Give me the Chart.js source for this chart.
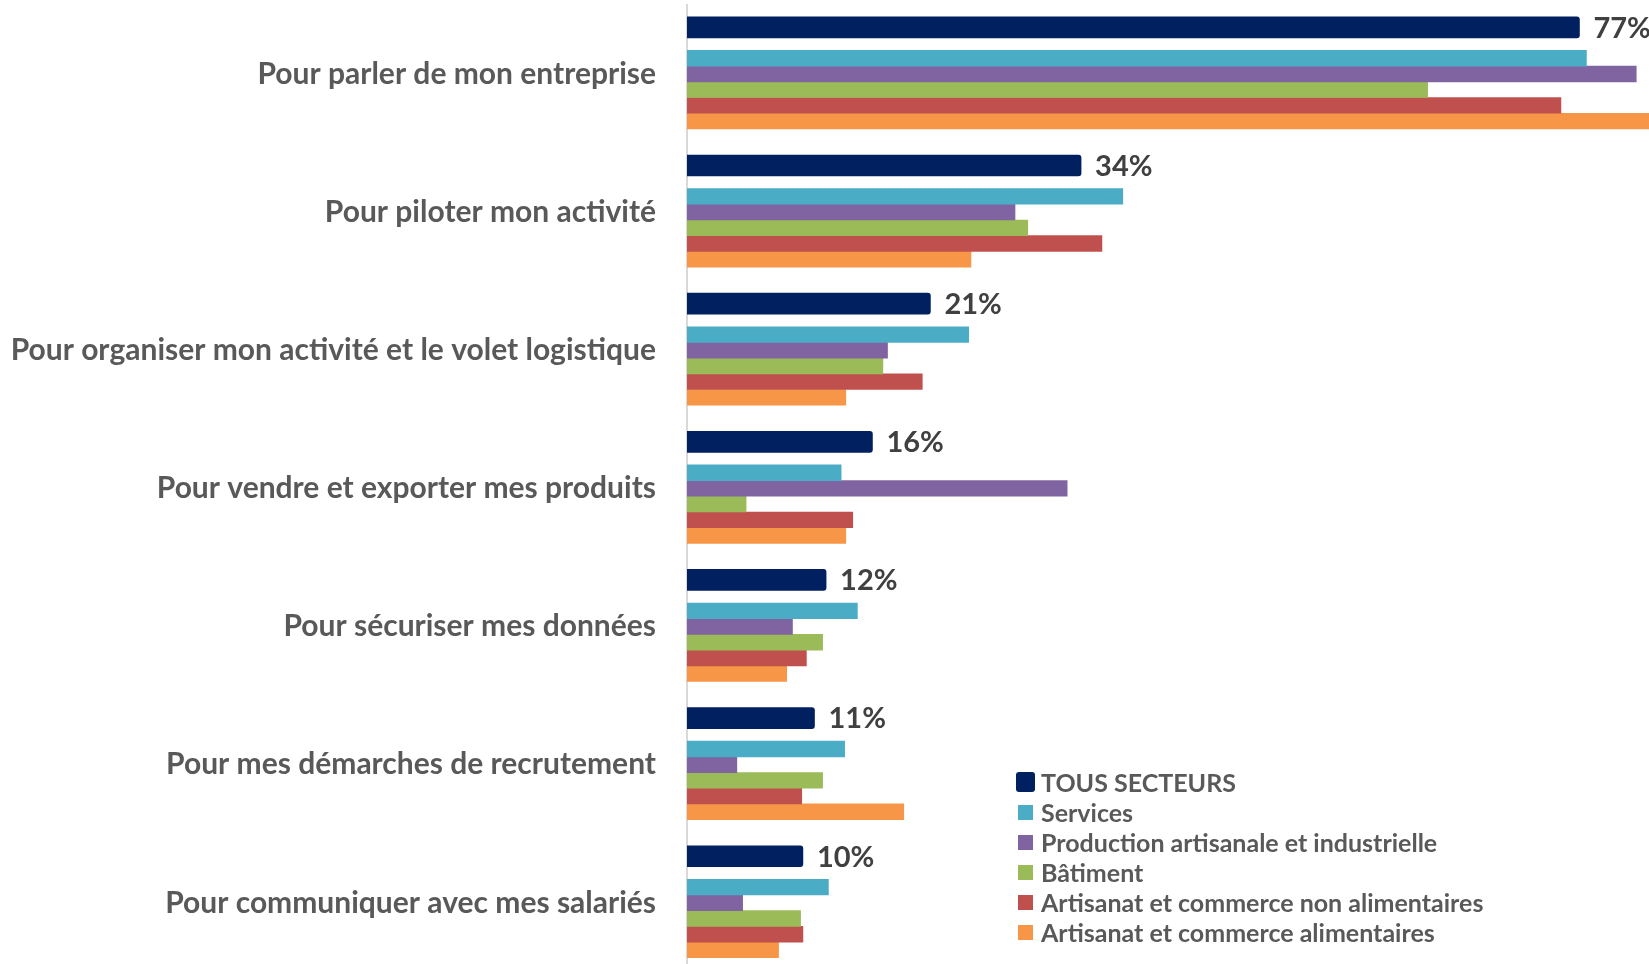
<!DOCTYPE html>
<html lang="fr">
<head>
<meta charset="utf-8">
<title>Usages du numérique par secteur</title>
<script src="https://cdn.jsdelivr.net/npm/chart.js@4.4.1/dist/chart.umd.min.js"></script>
<style>
  html, body { margin: 0; padding: 0; background: #fff; overflow: hidden; }
  #wrap { position: relative; width: 1649px; height: 972px; }
  #legend {
    position: absolute; left: 1018px; top: 767px;
    font-family: Lato, "Open Sans", sans-serif; font-weight: bold; font-size: 25px; color: #595959;
  }
  #legend .row { height: 30px; display: flex; align-items: center; }
  #legend .box { display: inline-block; width: 15px; height: 15px; margin-right: 8px; }
  #legend .box.big { width: 19px; height: 20px; border-radius: 3px; margin-left: -2px; margin-right: 6px; }
</style>
</head>
<body>
<div id="wrap">
  <canvas id="chart"></canvas>
  <div id="legend"></div>
</div>
<script>
// categories (top to bottom)
const categories = [
  "Pour parler de mon entreprise",
  "Pour piloter mon activité",
  "Pour organiser mon activité et le volet logistique",
  "Pour vendre et exporter mes produits",
  "Pour sécuriser mes données",
  "Pour mes démarches de recrutement",
  "Pour communiquer avec mes salariés"
];

// series values, in %
const tousSecteurs = [77, 34, 21, 16, 12, 11, 10];
const services = [77.6, 37.6, 24.3, 13.3, 14.7, 13.6, 12.2];
const production = [81.9, 28.3, 17.3, 32.8, 9.1, 4.3, 4.8];
const batiment = [63.9, 29.4, 16.9, 5.1, 11.7, 11.7, 9.8];
const nonAlimentaire = [75.4, 35.8, 20.3, 14.3, 10.3, 9.9, 10.0];
const alimentaire = [84, 24.5, 13.7, 13.7, 8.6, 18.7, 7.9];

const seriesNames = [
  "TOUS SECTEURS",
  "Services",
  "Production artisanale et industrielle",
  "Bâtiment",
  "Artisanat et commerce non alimentaires",
  "Artisanat et commerce alimentaires"
];
const colors = ["#002060", "#4BACC6", "#8064A2", "#9BBB59", "#C0504D", "#F79646"];

const xMax = 83;

// where the bars sit inside a category band (fraction of the band, from its centre):
// the "tous secteurs" bar on top, then a gap, then the block of sector bars
const TOUS_SHIFT = -0.338;
const SECTOR_SHIFT = 0.113;

const labelFont = { family: "Lato", weight: "bold", size: 30 };

// vertical offset of each dataset, worked out from the scale before drawing
const offsets = {};

const placeBars = {
  id: "placeBars",
  beforeDatasetsDraw(chart) {
    const y = chart.scales.y;
    const p0 = y.getPixelForValue(0);
    const band = y.getPixelForValue(1) - p0;
    offsets[0] = p0 + TOUS_SHIFT * band - chart.getDatasetMeta(0).data[0].y;
    const centers = [1, 2, 3, 4, 5].map(i => chart.getDatasetMeta(i).data[0].y);
    const mid = (Math.min(...centers) + Math.max(...centers)) / 2;
    const d = p0 + SECTOR_SHIFT * band - mid;
    for (let i = 1; i <= 5; i++) offsets[i] = d;
  },
  beforeDatasetDraw(chart, args) {
    chart.ctx.save();
    chart.ctx.translate(0, offsets[args.index] || 0);
  },
  afterDatasetDraw(chart) {
    chart.ctx.restore();
  }
};

// percentage labels next to the "tous secteurs" bars
const valueLabels = {
  id: "valueLabels",
  afterDatasetsDraw(chart) {
    const ctx = chart.ctx;
    const meta = chart.getDatasetMeta(0);
    ctx.save();
    ctx.font = "bold 29px Lato";
    ctx.fillStyle = "#404040";
    ctx.textBaseline = "middle";
    meta.data.forEach((bar, i) => {
      ctx.fillText(tousSecteurs[i] + "%", bar.x + 14, bar.y + offsets[0] + 1);
    });
    ctx.restore();
  }
};

const sectorSeries = [services, production, batiment, nonAlimentaire, alimentaire];

const datasets = [{
  label: seriesNames[0],
  data: tousSecteurs,
  backgroundColor: colors[0],
  barThickness: 21,
  borderRadius: 3,
  borderSkipped: "start"
}];
sectorSeries.forEach((values, i) => {
  datasets.push({
    label: seriesNames[i + 1],
    data: values,
    backgroundColor: colors[i + 1],
    barThickness: 15.7
  });
});

const chart = new Chart(document.getElementById("chart"), {
  type: "bar",
  data: { labels: categories, datasets: datasets },
  options: {
    indexAxis: "y",
    responsive: true,
    maintainAspectRatio: false,
    animation: false,
    layout: { padding: { top: 5, right: 0, bottom: 0, left: 0 } },
    plugins: {
      legend: { display: false },
      tooltip: { enabled: false }
    },
    scales: {
      x: { min: 0, max: xMax, display: false },
      y: {
        grid: { display: false, drawTicks: false },
        border: { display: true, color: "#d9d9d9", width: 2 },
        ticks: { font: labelFont, color: "#595959", padding: 31 },
        afterFit: (scale) => {
          scale.width = 687;
          scale.paddingTop = 0;
          scale.paddingBottom = 0;
        }
      }
    }
  },
  plugins: [placeBars, valueLabels]
});

// legend
const legend = document.getElementById("legend");
seriesNames.forEach((name, i) => {
  const row = document.createElement("div");
  row.className = "row";
  const box = document.createElement("span");
  box.className = i === 0 ? "box big" : "box";
  box.style.background = colors[i];
  row.appendChild(box);
  row.appendChild(document.createTextNode(name));
  legend.appendChild(row);
});
</script>
</body>
</html>
